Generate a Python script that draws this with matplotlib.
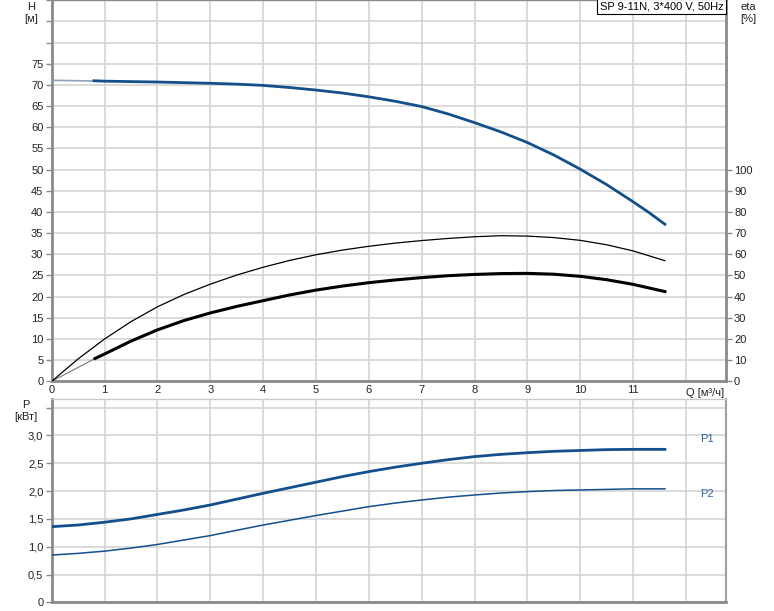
import matplotlib.pyplot as plt
import numpy as np

plt.rcParams['font.family'] = ['Liberation Sans', 'DejaVu Sans']
plt.rcParams['font.size'] = 8

# head [m] vs flow [m3/h]
q_head = [0, 0.5, 1, 1.5, 2, 2.5, 3, 3.5, 4, 4.5, 5, 5.5, 6, 6.5, 7, 7.5, 8, 8.5, 9, 9.5, 10, 10.5, 11, 11.3, 11.6]
head = [71.1, 71.0, 70.9, 70.8, 70.7, 70.55, 70.4, 70.2, 69.9, 69.4, 68.8, 68.1, 67.2, 66.15, 64.9, 63.15,
        61.1, 58.9, 56.4, 53.45, 50.1, 46.45, 42.4, 39.85, 37.1]
q_head_start = 0.8

# total efficiency [%]
q_eta = [0.82, 1, 1.5, 2, 2.5, 3, 3.5, 4, 4.5, 5, 5.5, 6, 6.5, 7, 7.5, 8, 8.5, 9, 9.5, 10, 10.5, 11, 11.6]
eta_total = [10.8, 12.9, 19.0, 24.3, 28.7, 32.3, 35.4, 38.1, 40.8, 43.1, 45.0, 46.6, 47.9, 49.0, 49.9,
             50.5, 50.9, 51.0, 50.6, 49.6, 48.0, 45.8, 42.4]
# pump efficiency [%]
q_eta_pump = [0, 0.5, 1, 1.5, 2, 2.5, 3, 3.5, 4, 4.5, 5, 5.5, 6, 6.5, 7, 7.5, 8, 8.5, 9, 9.5, 10, 10.5, 11, 11.6]
eta_pump = [0, 10.6, 20.0, 28.2, 35.2, 41.0, 45.9, 50.2, 53.9, 57.1, 59.8, 62.0, 63.8, 65.3, 66.5, 67.5,
            68.3, 68.8, 68.6, 67.9, 66.6, 64.5, 61.6, 57.0]

# power [kW]
q_power = [0, 0.5, 1, 1.5, 2, 2.5, 3, 3.5, 4, 4.5, 5, 5.5, 6, 6.5, 7, 7.5, 8, 8.5, 9, 9.5, 10, 10.5, 11, 11.3, 11.6]
p1 = [1.36, 1.39, 1.44, 1.50, 1.58, 1.66, 1.75, 1.855, 1.96, 2.06, 2.16, 2.26, 2.35, 2.43, 2.50, 2.565,
      2.62, 2.66, 2.69, 2.715, 2.73, 2.745, 2.75, 2.75, 2.75]
p2 = [0.85, 0.88, 0.92, 0.975, 1.04, 1.12, 1.20, 1.295, 1.39, 1.475, 1.56, 1.64, 1.72, 1.785, 1.84, 1.89,
      1.93, 1.965, 1.99, 2.01, 2.02, 2.03, 2.04, 2.04, 2.04]

title = 'SP 9-11N, 3*400 V, 50Hz'

blue = '#124f8c'
grid_c = '#d4d4d4'
spine_c = '#8a8a8a'
txt_c = '#222222'

fig = plt.figure(figsize=(7.74, 6.11), dpi=100)
ax = fig.add_axes([0.0668, 0.3759, 0.8708, 0.6236])
axp = fig.add_axes([0.0668, 0.0142, 0.8708, 0.3323])

xmax = 12.75

# ---- top panel: head / efficiency
ax.set_xlim(0, xmax)
ax.set_ylim(0, 90)
ax.set_xticks(np.arange(0, 13, 1))
ax.set_xticklabels([str(i) for i in range(12)] + [''])
ax.set_yticks(np.arange(0, 95, 5))
ax.set_yticklabels([str(v) if v <= 75 else '' for v in range(0, 95, 5)])
ax.grid(True, color=grid_c, linewidth=1.2)
ax.set_axisbelow(True)
ax.tick_params(axis='x', length=0, pad=3, colors=txt_c)
ax.tick_params(axis='y', length=4, width=1, color=spine_c, labelcolor=txt_c, pad=2)
for s in ['left', 'bottom']:
    ax.spines[s].set_color(spine_c)
    ax.spines[s].set_linewidth(2)
ax.spines['top'].set_color(spine_c)
ax.spines['top'].set_linewidth(1)
ax.spines['right'].set_color(spine_c)
ax.spines['right'].set_linewidth(2)

qh = np.array(q_head)
hh = np.array(head)
thin = qh <= 1
ax.plot(qh[thin], hh[thin], color='#8da3bd', linewidth=1.2, zorder=3)
thick = qh >= 1
ax.plot([q_head_start] + list(qh[thick]), [71.0] + list(hh[thick]), color=blue, linewidth=2,
        zorder=4, solid_joinstyle='round')

axe = ax.twinx()
axe.set_ylim(0, 180)
axe.set_yticks(np.arange(0, 110, 10))
axe.tick_params(axis='y', length=4, width=1, color=spine_c, labelcolor=txt_c, pad=2)
for s in axe.spines.values():
    s.set_visible(False)

axe.plot([0, q_eta[0]], [0, eta_total[0]], color='#777777', linewidth=0.8, zorder=3)
axe.plot(q_eta, eta_total, color='black', linewidth=2.2, zorder=4, solid_joinstyle='round')
axe.plot(q_eta_pump, eta_pump, color='black', linewidth=0.9, zorder=4)

ax.text(12, -1.6, 'Q [м³/ч]', ha='left', va='top', color=txt_c, clip_on=False)
fig.text(31 / 774, 1 - 7 / 611, 'H', ha='center', va='center', color=txt_c)
fig.text(31 / 774, 1 - 19 / 611, '[м]', ha='center', va='center', color=txt_c)
fig.text(748 / 774, 1 - 7 / 611, 'eta', ha='center', va='center', color=txt_c)
fig.text(748 / 774, 1 - 19 / 611, '[%]', ha='center', va='center', color=txt_c)
fig.text(26 / 774, 1 - 405 / 611, 'P', ha='center', va='center', color=txt_c)
fig.text(26 / 774, 1 - 417 / 611, '[кВт]', ha='center', va='center', color=txt_c)

ax.text(0.997, 0.997, title, transform=ax.transAxes, ha='right', va='top',
        color='black', zorder=10,
        bbox=dict(boxstyle='square,pad=0.25', facecolor='white', edgecolor='black', linewidth=0.8))

# ---- bottom panel: power
axp.set_xlim(0, xmax)
axp.set_ylim(0, 3.65)
axp.set_xticks(np.arange(0, 13, 1))
axp.set_xticklabels([])
ticks_p = np.arange(0, 3.75, 0.5)
axp.set_yticks(ticks_p)
labels_p = []
for v in ticks_p:
    if v == 0:
        labels_p.append('0')
    elif v <= 3.0:
        labels_p.append(('%.1f' % v).replace('.', ','))
    else:
        labels_p.append('')
axp.set_yticklabels(labels_p)
axp.grid(True, color=grid_c, linewidth=1.2)
axp.set_axisbelow(True)
axp.tick_params(axis='x', length=0)
axp.tick_params(axis='y', length=4, width=1, color=spine_c, labelcolor=txt_c, pad=2)
for s in ['left', 'bottom']:
    axp.spines[s].set_color(spine_c)
    axp.spines[s].set_linewidth(2)
axp.spines['top'].set_color('#c8c8c8')
axp.spines['top'].set_linewidth(1)
axp.spines['right'].set_color('#a0a0a0')
axp.spines['right'].set_linewidth(1.5)

axp.plot(q_power, p1, color=blue, linewidth=2, zorder=4, solid_joinstyle='round')
axp.plot(q_power, p2, color=blue, linewidth=1.1, zorder=4)
axp.text(12.4, 2.93, 'P1', ha='center', va='center', color='#2a62a8')
axp.text(12.4, 1.95, 'P2', ha='center', va='center', color='#2a62a8')

fig.savefig('out.png', dpi=100)
